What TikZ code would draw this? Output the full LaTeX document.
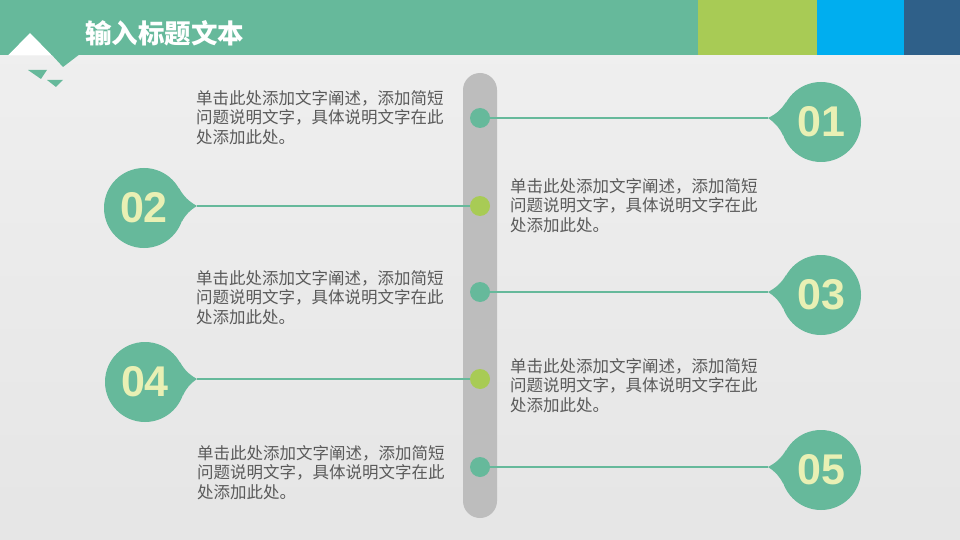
\documentclass[tikz,border=0pt]{standalone}
\usepackage{fontspec}
\newfontfamily\cjk{Noto Sans CJK SC}
\newfontfamily\numfont{Liberation Sans}
\definecolor{mgreen}{HTML}{66B99B}
\definecolor{ygreen}{HTML}{A8CB55}
\definecolor{mblue}{HTML}{00AEEF}
\definecolor{dblue}{HTML}{2F6089}
\definecolor{numcol}{HTML}{E9F0B4}
\definecolor{txtcol}{HTML}{5A5A5A}
\definecolor{barcol}{HTML}{BDBDBD}
\begin{document}
\begin{tikzpicture}[x=1pt,y=-1pt,
  numcircle/.style={circle,fill=mgreen,minimum size=80pt,inner sep=0pt,text=numcol,font=\numfont\bfseries\fontsize{43}{43}\selectfont},
  dotg/.style={circle,fill=mgreen,minimum size=20pt,inner sep=0pt},
  doty/.style={circle,fill=ygreen,minimum size=20pt,inner sep=0pt},
  conn/.style={draw=mgreen,line width=2pt},
  desc/.style={anchor=north west,inner sep=0pt,align=left,text=txtcol,font=\cjk\fontsize{16.5}{19.5}\selectfont}]
\useasboundingbox (0,0) rectangle (960,540);
% background
\shade[top color=white!94!black,bottom color=white!90!black] (0,0) rectangle (960,540);
% header
\fill[mgreen] (0,0) rectangle (698,55);
\fill[ygreen] (698,0) rectangle (817,55);
\fill[mblue] (817,0) rectangle (904,55);
\fill[dblue] (904,0) rectangle (960,55);
\fill[white] (8,55.5) -- (30,33) -- (52,55.5) -- cycle;
\fill[mgreen] (51,54) -- (80,54) -- (63,67) -- cycle;
\fill[mgreen] (28,70) -- (47,70) -- (41,79) -- cycle;
\fill[mgreen] (47,80) -- (63,80) -- (56,87) -- cycle;
\node[anchor=west,inner sep=0pt,text=white,font=\cjk\bfseries\fontsize{26.5}{26.5}\selectfont] (title) at (85,33) {输入标题文本};
% vertical bar
\fill[barcol,rounded corners=17pt] (463,73) rectangle (497,518);
% dots
\node[dotg] (d1) at (480,118) {};
\node[doty] (d2) at (480,206) {};
\node[dotg] (d3) at (480,292) {};
\node[doty] (d4) at (480,379) {};
\node[dotg] (d5) at (480,467) {};
% tips
\coordinate (t1) at (768,118);
\coordinate (t2) at (197,206);
\coordinate (t3) at (768,292);
\coordinate (t4) at (197,379);
\coordinate (t5) at (768,467);
% circles
\node[numcircle] (c1) at (821,122) {01};
\node[numcircle] (c2) at (144,208) {02};
\node[numcircle] (c3) at (821,295) {03};
\node[numcircle] (c4) at (145,382) {04};
\node[numcircle] (c5) at (821,470) {05};
% tails
\foreach \c/\t in {c1/t1,c3/t3,c5/t5}{
  \fill[mgreen] (\c.150) to[bend left=15] (\t) to[bend left=15] (\c.200) -- cycle;
}
\foreach \c/\t in {c2/t2,c4/t4}{
  \fill[mgreen] (\c.30) to[bend right=15] (\t) to[bend right=15] (\c.-20) -- cycle;
}
% connectors
\draw[conn] (d1) -- (t1);
\draw[conn] (d2) -- (t2);
\draw[conn] (d3) -- (t3);
\draw[conn] (d4) -- (t4);
\draw[conn] (d5) -- (t5);
% texts
\node[desc] (x1) at (196,90) {单击此处添加文字阐述，添加简短\\问题说明文字，具体说明文字在此\\处添加此处。};
\node[desc] (x2) at (510,178) {单击此处添加文字阐述，添加简短\\问题说明文字，具体说明文字在此\\处添加此处。};
\node[desc] (x3) at (196,270) {单击此处添加文字阐述，添加简短\\问题说明文字，具体说明文字在此\\处添加此处。};
\node[desc] (x4) at (510,358) {单击此处添加文字阐述，添加简短\\问题说明文字，具体说明文字在此\\处添加此处。};
\node[desc] (x5) at (197,445) {单击此处添加文字阐述，添加简短\\问题说明文字，具体说明文字在此\\处添加此处。};
\end{tikzpicture}
\end{document}
